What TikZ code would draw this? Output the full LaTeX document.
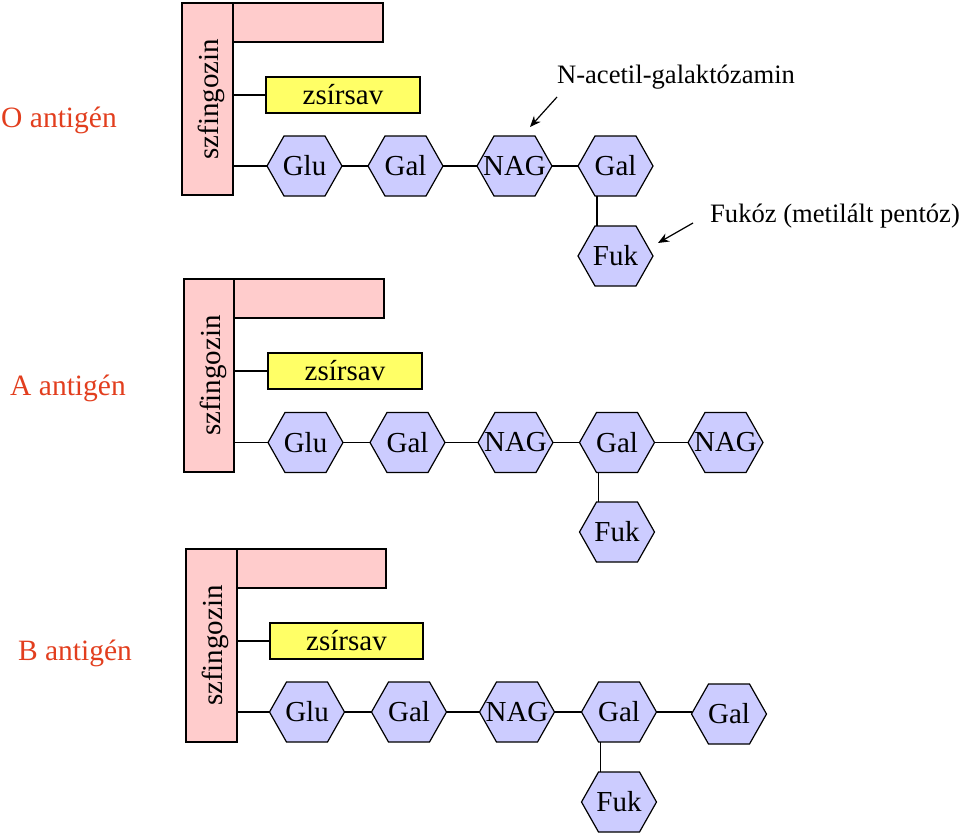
\documentclass[tikz,border=0pt]{standalone}
\usepackage{fontspec}
\setmainfont{Liberation Serif}
\usetikzlibrary{arrows.meta,backgrounds}
\definecolor{pinkc}{HTML}{FFCCCC}
\definecolor{yelc}{HTML}{FFFF66}
\definecolor{hexc}{HTML}{CCCCFF}
\definecolor{redc}{RGB}{226,62,30}
\newcommand{\hexdraw}[1]{\path[hexshape] (#1.west) -- ([xshift=-20.5pt]#1.north) -- ([xshift=20.5pt]#1.north) -- (#1.east) -- ([xshift=20.5pt]#1.south) -- ([xshift=-20.5pt]#1.south) -- cycle;}
\newcommand{\sztext}{\hspace*{8pt}\rotatebox{90}{szfingozin}}
\begin{document}
\begin{tikzpicture}[x=1pt,y=-1pt,
  every node/.style={inner sep=0pt, outer sep=0pt},
  lbl/.style={font=\fontsize{29}{32}\selectfont},
  pinkbox/.style={draw=black, fill=pinkc, line width=1.2pt},
  fatbox/.style={draw=black, fill=yelc, line width=1.2pt, minimum width=154pt, minimum height=36pt, font=\fontsize{29}{32}\selectfont},
  sugar/.style={minimum width=75pt, minimum height=60pt, font=\fontsize{29}{32}\selectfont},
  hexshape/.style={fill=hexc, draw=black, line width=1.2pt, line join=miter},
  link/.style={draw=black, line width=1.2pt},
  antlabel/.style={text=redc, font=\fontsize{29.5}{32}\selectfont, anchor=base},
  note/.style={font=\fontsize{26.6}{30}\selectfont, anchor=base},
  pointer/.style={draw=black, line width=1.2pt, -{Stealth[length=11pt,width=9pt]}}
]
\useasboundingbox (0,0) rectangle (960,835);

% ---------- O antigen ----------
\node[antlabel] (labO) at (59,127) {O antigén};
\node[pinkbox, minimum width=150pt, minimum height=39pt] (barO) at (308,22.5) {};
\node[pinkbox, lbl, minimum width=51pt, minimum height=192pt] (szO) at (207.5,99) {\sztext};
\node[fatbox] (zsO) at (343,95) {zsírsav};
\node[sugar] (o1) at (304.5,166) {Glu};
\node[sugar] (o2) at (405.5,166) {Gal};
\node[sugar] (o3) at (514.5,166) {NAG};
\node[sugar] (o4) at (615.5,166) {Gal};
\node[sugar] (o5) at (615.5,256) {Fuk};
\draw[link] (zsO.west) -- (zsO.west -| szO.east);
\draw[link] (o1.west) -- (o1.west -| szO.east);
\draw[link] (o1.east) -- (o2.west);
\draw[link] (o2.east) -- (o3.west);
\draw[link] (o3.east) -- (o4.west);
\draw[link] ([xshift=-18.5pt]o4.south) -- ([xshift=-18.5pt]o5.north);

\node[note] (nac) at (676,83) {N-acetil-galaktózamin};
\coordinate (nacTail) at (557,97);
\coordinate (nacTip) at (530,127);
\draw[pointer] (nacTail) -- (nacTip);
\node[note] (fuc) at (835,222) {Fukóz (metilált pentóz)};
\coordinate (fucTail) at (693,223);
\coordinate (fucTip) at (658,243);
\draw[pointer] (fucTail) -- (fucTip);

% ---------- A antigen ----------
\node[antlabel] (labA) at (68,395) {A antigén};
\node[pinkbox, minimum width=150pt, minimum height=39pt] (barA) at (309,298.5) {};
\node[pinkbox, lbl, minimum width=50pt, minimum height=193pt] (szA) at (209,375.5) {\sztext};
\node[fatbox] (zsA) at (345,371) {zsírsav};
\node[sugar] (a1) at (305.5,442.5) {Glu};
\node[sugar] (a2) at (407.5,442.5) {Gal};
\node[sugar] (a3) at (515.5,442.5) {NAG};
\node[sugar] (a4) at (617,442.5) {Gal};
\node[sugar] (a5) at (725.5,442.5) {NAG};
\node[sugar] (a6) at (617,532) {Fuk};
\draw[link] (zsA.west) -- (zsA.west -| szA.east);
\draw[link] (a1.west) -- (a1.west -| szA.east);
\draw[link] (a1.east) -- (a2.west);
\draw[link] (a2.east) -- (a3.west);
\draw[link] (a3.east) -- (a4.west);
\draw[link] (a4.east) -- (a5.west);
\draw[link] ([xshift=-18.5pt]a4.south) -- ([xshift=-18.5pt]a6.north);

% ---------- B antigen ----------
\node[antlabel] (labB) at (75,660) {B antigén};
\node[pinkbox, minimum width=149pt, minimum height=39pt] (barB) at (311.5,568.5) {};
\node[pinkbox, lbl, minimum width=51pt, minimum height=193pt] (szB) at (211.5,645.5) {\sztext};
\node[fatbox, minimum width=153pt] (zsB) at (346.5,641) {zsírsav};
\node[sugar] (b1) at (307,712) {Glu};
\node[sugar] (b2) at (409,712) {Gal};
\node[sugar] (b3) at (517,712) {NAG};
\node[sugar] (b4) at (619,712) {Gal};
\node[sugar] (b5) at (729,714) {Gal};
\node[sugar] (b6) at (619,802) {Fuk};
\draw[link] (zsB.west) -- (zsB.west -| szB.east);
\draw[link] (b1.west) -- (b1.west -| szB.east);
\draw[link] (b1.east) -- (b2.west);
\draw[link] (b2.east) -- (b3.west);
\draw[link] (b3.east) -- (b4.west);
\draw[link] (b4.east) -- (b4.east -| b5.west);
\draw[link] ([xshift=-18.5pt]b4.south) -- ([xshift=-18.5pt]b6.north);

% hexagon outlines behind the sugar labels
\begin{pgfonlayer}{background}
  \foreach \n in {o1,o2,o3,o4,o5,a1,a2,a3,a4,a5,a6,b1,b2,b3,b4,b5,b6} {\hexdraw{\n}}
\end{pgfonlayer}
\end{tikzpicture}
\end{document}
